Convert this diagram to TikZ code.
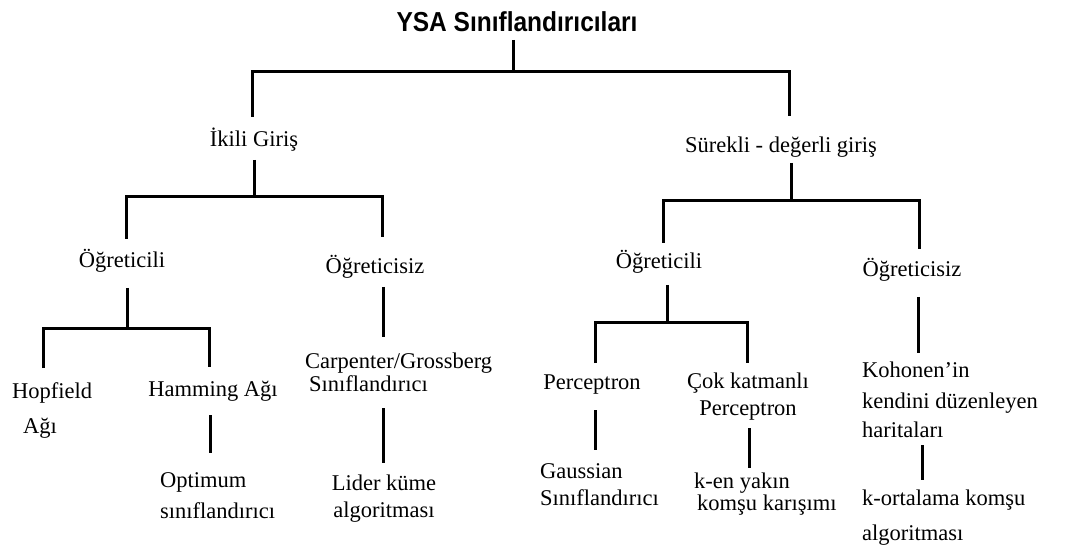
\documentclass[tikz,border=0pt]{standalone}
\usepackage{fontspec}
\setmainfont{Liberation Serif}
\newfontfamily\headfont{Liberation Sans}
\newcommand\labelfont{\fontsize{22.5}{27}\selectfont\lineskiplimit=-100pt\relax}
\begin{document}
\begin{tikzpicture}[x=1pt,y=-1pt,
  tree/.style={line width=3pt, line join=miter},
  lbl/.style={inner sep=0pt, font=\labelfont},
  lblL/.style={lbl, align=left, anchor=base west},
  lblC/.style={lbl, align=center, anchor=base}]
\useasboundingbox (0,0) rectangle (1077,548);
\fill[white] (0,0) rectangle (1077,548);

% --- labels (multi-line labels sit on the baseline of their last line) ---
\node[anchor=base, inner sep=0pt, font=\headfont\bfseries\fontsize{24.5}{28}\selectfont]
  (title) at (517,32) {\scalebox{1}[1.12]{YSA Sınıflandırıcıları}};

\node[lblC] (ikili)   at (254,147) {İkili Giriş};
\node[lblC] (surekli) at (781,153) {Sürekli - değerli giriş};

\node[lblC] (ogrL) at (122,268) {Öğreticili};
\node[lblC] (ogsL) at (375,274) {Öğreticisiz};
\node[lblC] (ogrR) at (659,269) {Öğreticili};
\node[lblC] (ogsR) at (912,277) {Öğreticisiz};

\node[lblL] (hop)   at (12,433)  {Hopfield\\[8pt]\hspace*{11pt}Ağı};
\node[lblC] (ham)   at (213,396) {Hamming Ağı};
\node[lblL] (opt)   at (160,518) {Optimum\\[4pt]sınıflandırıcı};
\node[lblL] (carp)  at (305,391) {Carpenter/Grossberg\\[-4pt]\hspace*{4pt}Sınıflandırıcı};
\node[lblC] (lider) at (384,517) {Lider küme\\algoritması};

\node[lblC] (perc)  at (592,389) {Perceptron};
\node[lblC] (cok)   at (748,415) {Çok katmanlı\\Perceptron};
\node[lblL] (gauss) at (540,505) {Gaussian\\Sınıflandırıcı};
\node[lblL] (ken)   at (694,510) {k-en yakın\\[-5pt]\hspace*{3pt}komşu karışımı};
\node[lblL] (koh)   at (862,437) {Kohonen{\char"27}in\\[4pt]kendini düzenleyen\\[2pt]haritaları};
\node[lblL] (kort)  at (862,540) {k-ortalama komşu\\[8pt]algoritması};

% --- connector end points and junctions ---
\coordinate (title-b) at (513,40);   \coordinate (j0) at (513,72);
\coordinate (ikili-t) at (252,117);  \coordinate (surekli-t) at (789,116);

\coordinate (ikili-b) at (254,160);  \coordinate (j1) at (254,197);
\coordinate (ogrL-t) at (126,239);   \coordinate (ogsL-t) at (382,237);

\coordinate (surekli-b) at (791,163); \coordinate (j2) at (791,201);
\coordinate (ogrR-t) at (663,243);    \coordinate (ogsR-t) at (919,249);

\coordinate (ogrL-b) at (127,288);   \coordinate (j3) at (127,328);
\coordinate (hop-t) at (43,368);     \coordinate (ham-t) at (209,367);

\coordinate (ogsL-b) at (383,287);   \coordinate (carp-t) at (383,337);

\coordinate (ogrR-b) at (667,285);   \coordinate (j4) at (667,322);
\coordinate (perc-t) at (595,363);   \coordinate (cok-t) at (747,363);

\coordinate (ogsR-b) at (918,297);   \coordinate (koh-t) at (918,353);

\coordinate (ham-b) at (210,415);    \coordinate (opt-t) at (210,453);
\coordinate (carp-b) at (383,408);   \coordinate (lider-t) at (383,463);
\coordinate (perc-b) at (595,410);   \coordinate (gauss-t) at (595,450);
\coordinate (cok-b) at (749,428);    \coordinate (ken-t) at (749,468);
\coordinate (koh-b) at (922,445);    \coordinate (kort-t) at (922,480);

% --- tree connectors ---
\draw[tree] (title-b) -- (j0);
\draw[tree] (ikili-t) |- (j0) -| (surekli-t);

\draw[tree] (ikili-b) -- (j1);
\draw[tree] (ogrL-t) |- (j1) -| (ogsL-t);

\draw[tree] (surekli-b) -- (j2);
\draw[tree] (ogrR-t) |- (j2) -| (ogsR-t);

\draw[tree] (ogrL-b) -- (j3);
\draw[tree] (hop-t) |- (j3) -| (ham-t);

\draw[tree] (ogsL-b) -- (carp-t);

\draw[tree] (ogrR-b) -- (j4);
\draw[tree] (perc-t) |- (j4) -| (cok-t);

\draw[tree] (ogsR-b) -- (koh-t);

\draw[tree] (ham-b) -- (opt-t);
\draw[tree] (carp-b) -- (lider-t);
\draw[tree] (perc-b) -- (gauss-t);
\draw[tree] (cok-b) -- (ken-t);
\draw[tree] (koh-b) -- (kort-t);
\end{tikzpicture}
\end{document}
